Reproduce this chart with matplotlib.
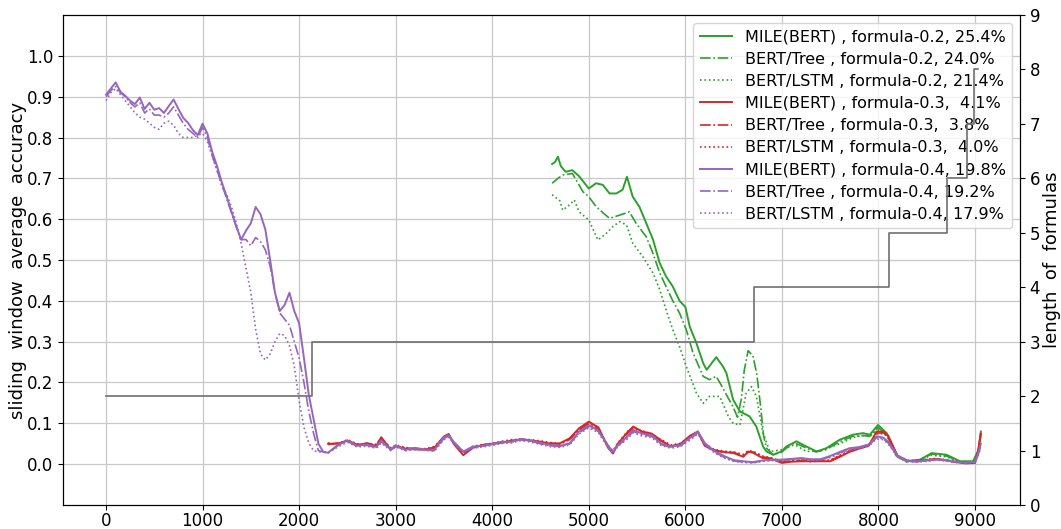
import matplotlib
matplotlib.use("Agg")
import matplotlib.pyplot as plt

# ---------------- data ----------------
# formula-0.4 (purple), x positions
x04 = [0, 50, 100, 150, 200, 250, 300, 350, 400, 450, 500, 550, 600, 650, 700, 750, 800, 850, 900, 950,
       1000, 1050, 1100, 1150, 1200, 1250, 1300, 1350, 1400, 1450, 1500, 1550, 1600, 1650, 1700, 1750,
       1800, 1850, 1900, 1950, 2000, 2050, 2100, 2150, 2200, 2250,
       2300, 2400, 2500, 2600, 2700, 2800, 2850, 2950, 3000, 3100, 3200, 3300, 3400, 3500, 3550, 3600,
       3700, 3800, 3900, 4000, 4100, 4200, 4300, 4400, 4500, 4600, 4700, 4800, 4900, 5000, 5100, 5200,
       5250, 5300, 5400, 5460, 5550, 5650, 5750, 5850, 5950, 6050, 6130, 6200, 6300, 6400, 6500, 6600,
       6700, 6800, 6900, 7000, 7100, 7200, 7300, 7400, 7500, 7600, 7700, 7800, 7900, 7980, 8050, 8100,
       8200, 8300, 8400, 8500, 8600, 8700, 8800, 8900, 9000, 9030, 9060]
mile_04 = [0.905, 0.92, 0.935, 0.912, 0.902, 0.89, 0.882, 0.898, 0.87, 0.885, 0.868, 0.872, 0.86, 0.877, 0.893,
           0.87, 0.848, 0.836, 0.818, 0.806, 0.834, 0.81, 0.765, 0.73, 0.69, 0.655, 0.618, 0.582, 0.55, 0.572,
           0.59, 0.63, 0.612, 0.575, 0.5, 0.42, 0.375, 0.39, 0.42, 0.375, 0.345, 0.26, 0.17, 0.11, 0.05, 0.03,
           0.028, 0.047, 0.058, 0.045, 0.048, 0.042, 0.058, 0.036, 0.046, 0.035, 0.04, 0.036, 0.035, 0.066,
           0.071, 0.055, 0.031, 0.043, 0.045, 0.05, 0.055, 0.055, 0.062, 0.058, 0.052, 0.047, 0.045, 0.051,
           0.08, 0.095, 0.082, 0.045, 0.03, 0.047, 0.068, 0.084, 0.075, 0.071, 0.05, 0.043, 0.047, 0.065,
           0.08, 0.052, 0.032, 0.02, 0.01, 0.007, 0.005, 0.009, 0.011, 0.011, 0.013, 0.015, 0.012, 0.012,
           0.02, 0.03, 0.039, 0.042, 0.048, 0.068, 0.065, 0.055, 0.02, 0.008, 0.007, 0.009, 0.012, 0.01,
           0.006, 0.004, 0.006, 0.025, 0.05]
tree_04 = [0.9, 0.915, 0.925, 0.91, 0.9, 0.885, 0.875, 0.885, 0.86, 0.87, 0.855, 0.855, 0.85, 0.86, 0.875,
           0.855, 0.835, 0.82, 0.81, 0.8, 0.825, 0.8, 0.755, 0.72, 0.685, 0.65, 0.615, 0.58, 0.55, 0.55,
           0.535, 0.555, 0.545, 0.525, 0.485, 0.42, 0.37, 0.355, 0.34, 0.3, 0.26, 0.2, 0.13, 0.075, 0.033, 0.03,
           0.027, 0.045, 0.056, 0.044, 0.046, 0.04, 0.055, 0.035, 0.044, 0.034, 0.038, 0.035, 0.033, 0.063,
           0.069, 0.052, 0.03, 0.041, 0.044, 0.048, 0.053, 0.054, 0.06, 0.056, 0.05, 0.045, 0.043, 0.049,
           0.077, 0.092, 0.08, 0.043, 0.028, 0.045, 0.065, 0.08, 0.072, 0.068, 0.048, 0.041, 0.045, 0.062,
           0.077, 0.05, 0.03, 0.017, 0.008, 0.005, 0.004, 0.008, 0.01, 0.01, 0.012, 0.014, 0.011, 0.011,
           0.018, 0.028, 0.037, 0.04, 0.046, 0.065, 0.062, 0.052, 0.018, 0.007, 0.006, 0.008, 0.011, 0.009,
           0.005, 0.003, 0.005, 0.022, 0.045]
lstm_04 = [0.89, 0.91, 0.92, 0.905, 0.89, 0.875, 0.86, 0.85, 0.845, 0.835, 0.825, 0.82, 0.835, 0.84, 0.83,
           0.81, 0.8, 0.8, 0.8, 0.805, 0.81, 0.79, 0.755, 0.72, 0.68, 0.66, 0.63, 0.59, 0.54, 0.48,
           0.42, 0.33, 0.27, 0.255, 0.27, 0.3, 0.32, 0.315, 0.29, 0.24, 0.155, 0.09, 0.052, 0.033, 0.03, 0.03,
           0.028, 0.042, 0.054, 0.042, 0.044, 0.039, 0.052, 0.033, 0.042, 0.033, 0.036, 0.034, 0.032, 0.06,
           0.066, 0.05, 0.029, 0.039, 0.042, 0.046, 0.051, 0.052, 0.058, 0.054, 0.048, 0.043, 0.041, 0.047,
           0.074, 0.089, 0.077, 0.041, 0.027, 0.043, 0.062, 0.077, 0.069, 0.065, 0.046, 0.039, 0.043, 0.059,
           0.074, 0.047, 0.028, 0.015, 0.007, 0.004, 0.003, 0.007, 0.009, 0.009, 0.011, 0.013, 0.01, 0.01,
           0.016, 0.026, 0.035, 0.038, 0.044, 0.062, 0.06, 0.05, 0.016, 0.006, 0.005, 0.007, 0.01, 0.008,
           0.004, 0.003, 0.004, 0.02, 0.04]

# formula-0.3 (red)
x03 = [2300, 2400, 2500, 2600, 2700, 2800, 2850, 2950, 3000, 3100, 3200, 3300, 3400, 3500, 3550, 3600,
       3700, 3800, 3900, 4000, 4100, 4200, 4300, 4400, 4500, 4600, 4700, 4800, 4900, 5000, 5100, 5200,
       5250, 5300, 5400, 5460, 5550, 5650, 5750, 5850, 5950, 6050, 6130, 6200, 6300, 6400, 6500, 6600,
       6650, 6700, 6800, 6900, 7000, 7100, 7200, 7300, 7400, 7500, 7600, 7700, 7800, 7900, 7980, 8050,
       8100, 8200, 8300, 8400, 8500, 8600, 8700, 8800, 8900, 9000, 9030, 9060]
mile_03 = [0.05, 0.05, 0.058, 0.048, 0.05, 0.045, 0.066, 0.035, 0.045, 0.038, 0.036, 0.036, 0.04, 0.068,
           0.074, 0.05, 0.022, 0.04, 0.047, 0.05, 0.052, 0.058, 0.06, 0.058, 0.055, 0.05, 0.051, 0.063,
           0.088, 0.104, 0.09, 0.04, 0.026, 0.05, 0.078, 0.092, 0.08, 0.075, 0.058, 0.043, 0.05, 0.07,
           0.08, 0.045, 0.033, 0.03, 0.027, 0.018, 0.031, 0.028, 0.015, 0.012, 0.003, 0.006, 0.007, 0.007,
           0.007, 0.007, 0.018, 0.03, 0.038, 0.045, 0.08, 0.08, 0.07, 0.018, 0.008, 0.007, 0.01, 0.012,
           0.009, 0.005, 0.002, 0.003, 0.03, 0.075]
tree_03 = [0.048, 0.052, 0.056, 0.046, 0.052, 0.047, 0.062, 0.038, 0.043, 0.04, 0.038, 0.034, 0.042, 0.064,
           0.07, 0.052, 0.026, 0.042, 0.045, 0.052, 0.054, 0.056, 0.062, 0.056, 0.053, 0.052, 0.049, 0.06,
           0.084, 0.1, 0.087, 0.043, 0.03, 0.048, 0.075, 0.088, 0.078, 0.072, 0.056, 0.045, 0.048, 0.068,
           0.077, 0.047, 0.035, 0.028, 0.029, 0.02, 0.029, 0.03, 0.018, 0.014, 0.005, 0.008, 0.009, 0.006,
           0.008, 0.009, 0.02, 0.032, 0.04, 0.047, 0.076, 0.077, 0.068, 0.02, 0.009, 0.008, 0.011, 0.013,
           0.01, 0.006, 0.003, 0.004, 0.028, 0.068]
lstm_03 = [0.052, 0.049, 0.06, 0.05, 0.048, 0.049, 0.064, 0.04, 0.047, 0.041, 0.037, 0.038, 0.043, 0.066,
           0.072, 0.054, 0.03, 0.044, 0.048, 0.051, 0.056, 0.06, 0.061, 0.06, 0.057, 0.053, 0.05, 0.061,
           0.086, 0.098, 0.085, 0.046, 0.033, 0.052, 0.08, 0.09, 0.082, 0.074, 0.06, 0.047, 0.051, 0.066,
           0.078, 0.05, 0.036, 0.032, 0.03, 0.024, 0.033, 0.032, 0.02, 0.015, 0.007, 0.009, 0.01, 0.008,
           0.009, 0.01, 0.022, 0.033, 0.041, 0.048, 0.074, 0.075, 0.066, 0.021, 0.01, 0.009, 0.012, 0.014,
           0.011, 0.007, 0.004, 0.005, 0.03, 0.07]

# formula-0.2 (green)
x02_mile = [4620, 4650, 4680, 4710, 4760, 4830, 4900, 4950, 5000, 5075, 5145, 5215, 5285, 5350, 5395, 5455,
            5525, 5595, 5665, 5735, 5800, 5870, 5940, 6000, 6045, 6115, 6185, 6220, 6320, 6390, 6425, 6495,
            6565, 6665, 6735, 6805, 6840, 6910, 6995, 7045, 7150, 7255, 7360, 7460, 7600, 7735, 7840, 7910,
            7995, 8085, 8185, 8290, 8430, 8550, 8705, 8845, 8980, 9035, 9060]
mile_02 = [0.735, 0.74, 0.753, 0.73, 0.716, 0.72, 0.705, 0.69, 0.675, 0.688, 0.684, 0.663, 0.663, 0.672, 0.704,
           0.655, 0.63, 0.59, 0.55, 0.492, 0.46, 0.435, 0.4, 0.385, 0.337, 0.296, 0.247, 0.231, 0.262, 0.239,
           0.223, 0.158, 0.129, 0.117, 0.092, 0.043, 0.031, 0.023, 0.031, 0.043, 0.056, 0.043, 0.031, 0.039,
           0.06, 0.072, 0.076, 0.072, 0.096, 0.076, 0.023, 0.007, 0.011, 0.027, 0.023, 0.007, 0.007, 0.035, 0.08]
x02_tree = [4620, 4680, 4730, 4830, 4940, 5000, 5075, 5150, 5215, 5320, 5420, 5490, 5595, 5665, 5735, 5800,
            5870, 5940, 6010, 6080, 6185, 6250, 6320, 6380, 6425, 6495, 6540, 6580, 6610, 6650, 6700, 6740,
            6780, 6810, 6840, 6910, 7000, 7050, 7150, 7250, 7350, 7450, 7600, 7730, 7840, 7910, 7995, 8085,
            8185, 8290, 8430, 8550, 8705, 8845, 8980, 9035, 9060]
tree_02 = [0.688, 0.7, 0.708, 0.712, 0.667, 0.655, 0.631, 0.615, 0.602, 0.61, 0.618, 0.59, 0.557, 0.516, 0.468,
           0.435, 0.4, 0.37, 0.329, 0.272, 0.215, 0.207, 0.215, 0.19, 0.17, 0.14, 0.115, 0.16, 0.23, 0.278,
           0.265, 0.22, 0.14, 0.07, 0.039, 0.023, 0.03, 0.04, 0.05, 0.04, 0.03, 0.035, 0.055, 0.068, 0.07,
           0.068, 0.09, 0.072, 0.02, 0.006, 0.01, 0.025, 0.02, 0.006, 0.006, 0.03, 0.075]
x02_lstm = [4620, 4700, 4730, 4800, 4850, 4900, 5000, 5095, 5180, 5250, 5320, 5390, 5455, 5560, 5665, 5735,
            5800, 5870, 5940, 6010, 6115, 6185, 6250, 6355, 6445, 6495, 6565, 6630, 6685, 6735, 6805, 6875,
            6995, 7115, 7255, 7400, 7600, 7735, 7840, 7910, 7995, 8085, 8185, 8290, 8430, 8550, 8705, 8845,
            8980, 9035, 9060]
lstm_02 = [0.66, 0.645, 0.622, 0.635, 0.647, 0.618, 0.598, 0.549, 0.565, 0.582, 0.594, 0.586, 0.541, 0.508,
           0.468, 0.427, 0.378, 0.329, 0.288, 0.239, 0.174, 0.149, 0.166, 0.166, 0.117, 0.1, 0.096, 0.174, 0.19,
           0.166, 0.076, 0.031, 0.035, 0.05, 0.031, 0.033, 0.05, 0.065, 0.07, 0.068, 0.085, 0.07, 0.02, 0.006,
           0.01, 0.022, 0.018, 0.006, 0.006, 0.03, 0.07]

# formula length (right axis), step function
step_x = [0, 2129, 6706, 8109, 8711, 8917, 8993, 9030]
step_len = [2, 3, 4, 5, 6, 7, 8, 8]

labels = ["MILE(BERT) , formula-0.2, 25.4%", "BERT/Tree , formula-0.2, 24.0%", "BERT/LSTM , formula-0.2, 21.4%",
          "MILE(BERT) , formula-0.3,  4.1%", "BERT/Tree , formula-0.3,  3.8%", "BERT/LSTM , formula-0.3,  4.0%",
          "MILE(BERT) , formula-0.4, 19.8%", "BERT/Tree , formula-0.4, 19.2%", "BERT/LSTM , formula-0.4, 17.9%"]

# ---------------- plot ----------------
fig = plt.figure(figsize=(10.61, 5.29), dpi=100)
ax = fig.add_axes([0.0594, 0.0454, 0.9019, 0.9262])

green, red, purple = "#2ca02c", "#d62728", "#9467bd"
series = [
    (x02_mile, mile_02, green, "-"), (x02_tree, tree_02, green, "-."), (x02_lstm, lstm_02, green, ":"),
    (x03, mile_03, red, "-"), (x03, tree_03, red, "-."), (x03, lstm_03, red, ":"),
    (x04, mile_04, purple, "-"), (x04, tree_04, purple, "-."), (x04, lstm_04, purple, ":"),
]
for (xs, ys, c, ls), lab in zip(series, labels):
    ax.plot(xs, ys, color=c, linestyle=ls, linewidth=1.4 if ls == "-" else 1.2, label=lab)

ax.set_xlim(-445, 9465)
ax.set_ylim(-0.1, 1.1)
ax.set_yticks([i / 10 for i in range(11)])
ax.set_yticklabels([f"{i/10:.1f}" for i in range(11)])
ax.set_xticks(range(0, 9001, 1000))
ax.grid(True, color="#c8c8c8", linewidth=0.9)
ax.tick_params(labelsize=12)
ax.tick_params(axis="x", pad=1.5)
ax.set_ylabel("sliding  window  average  accuracy", fontsize=13, labelpad=0)

leg = ax.legend(loc="upper right", fontsize=11.5, framealpha=0.8, handlelength=2.0,
                labelspacing=0.45)

ax2 = ax.twinx()
ax2.step(step_x, step_len, where="post", color="#707070", linewidth=1.2)
ax2.set_ylim(0, 9)
ax2.set_yticks(range(10))
ax2.tick_params(labelsize=12)
ax2.set_ylabel("length  of  formulas", fontsize=13, labelpad=2)

fig.savefig("out.png", dpi=100)
